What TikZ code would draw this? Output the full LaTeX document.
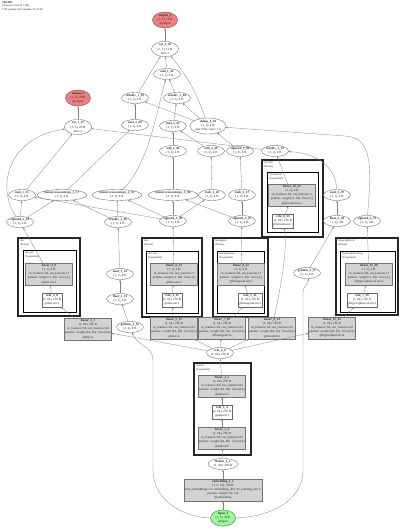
\documentclass[tikz,border=0pt]{standalone}
\usepackage{fontspec}
\setmainfont{Liberation Serif}
\usetikzlibrary{shapes.geometric,arrows.meta}
\definecolor{linfill}{RGB}{211,211,211}
\definecolor{outfill}{RGB}{240,128,128}
\definecolor{infill}{RGB}{152,251,152}
\newcommand{\dgfont}{\fontsize{3.2}{4.1}\selectfont}
\newcommand{\dgsmall}{\fontsize{2.8}{3.3}\selectfont}
\begin{document}
\begin{tikzpicture}[x=1pt,y=-1pt,
  every node/.style={font=\dgfont, align=center, text=black!85},
  ell/.style={ellipse, draw=black!60, line width=0.35pt, fill=white, inner sep=0.2pt, minimum width=27pt, minimum height=11pt},
  outell/.style={ell, fill=outfill, draw=black!70, minimum width=25pt},
  inell/.style={ell, fill=infill, draw=black!70, minimum width=25pt},
  lin/.style={rectangle, draw=black!55, fill=linfill, line width=0.35pt, minimum width=47pt, minimum height=22pt, inner sep=0.5pt},
  relubox/.style={rectangle, draw=black!60, fill=white, line width=0.35pt, minimum width=20pt, minimum height=14pt, inner sep=0.5pt},
  grpout/.style={draw=black!85, line width=1.4pt},
  grpin/.style={draw=black, line width=0.6pt},
  grplabel/.style={anchor=north west, font=\dgsmall, align=left, inner sep=0.6pt},
  edge/.style={draw=black!50, line width=0.3pt, -{Stealth[length=2.2pt,width=1.8pt]}}
]
\useasboundingbox (0,0) rectangle (400,531);

% header
\node[anchor=north west, font=\dgsmall, align=left, inner sep=0pt] (hdr) at (2,1.5)
  {\textbf{SBGMN}\\54 tensors total (3.7 kB)\\7.9K params (all trainable, 31.6 kB)};

% group frames
\draw[grpout] (18,238) rectangle (80,316);
\draw[grpin] (23,250) rectangle (76,312);
\node[grplabel] (g1a) at (19.5,239) {dist\\(Dense)};
\node[grplabel] (g1b) at (24.5,251) {dist.net\\(Sequential)};

\draw[grpout] (142,238) rectangle (202,317);
\draw[grpin] (146,251) rectangle (198,313);
\node[grplabel] (g2a) at (143.5,239) {disc\\(Dense)};
\node[grplabel] (g2b) at (147.5,252) {disc.net\\(Sequential)};

\draw[grpout] (213,238) rectangle (268,317);
\draw[grpin] (217,251) rectangle (264,313);
\node[grplabel] (g3a) at (214.5,239) {histogram\\(Dense)};
\node[grplabel] (g3b) at (218.5,252) {histogram.net\\(Sequential)};

\draw[grpout] (262,160) rectangle (323,237);
\draw[grpin] (267,172) rectangle (318,232);
\node[grplabel] (g4a) at (263.5,161) {decoder\\(Dense)};
\node[grplabel] (g4b) at (268.5,173) {decoder.net\\(Sequential)};

\draw[grpout] (336,238) rectangle (398,315);
\draw[grpin] (340,251) rectangle (395,312);
\node[grplabel] (g5a) at (337.5,239) {hyperspherical\\(Dense)};
\node[grplabel] (g5b) at (341.5,252) {hyperspherical.net\\(Sequential)};

\draw[grpout] (194,363) rectangle (251,455);
\node[grplabel] (g6a) at (195.5,364) {shared\\(Sequential)};

% top part
\node[outell] (out1) at (165,20) {\textbf{output\_1}\\(1, 3), 12 B\\@output};
\node[ell] (cat38) at (165,49) {\textbf{cat\_1\_38}\\(1, 3), 12 B\\dim=1};
\node[ell] (add42) at (167,74) {\textbf{add\_1\_42}\\(1, 1), 4 B};
\node[ell] (td39) at (135,98) {\textbf{truediv\_1\_39}\\(1, 1), 4 B};
\node[ell] (td44) at (177,98) {\textbf{truediv\_1\_44}\\(1, 1), 4 B};
\node[ell] (mul40) at (135,125) {\textbf{mul\_1\_40}\\(1, 1), 4 B};
\node[ell] (mul45) at (173,126) {\textbf{mul\_2\_45}\\(1, 1), 4 B};
\node[ell] (clamp36) at (208,126) {\textbf{clamp\_1\_36}\\(1, 1), 4 B\\min=0.01, max=1.0};
\node[outell] (out2) at (78,98) {\textbf{output\_2}\\(1, 5), 20 B\\@output};
\node[ell] (cat35) at (78,127) {\textbf{cat\_1\_35}\\(1, 5), 20 B\\dim=1};

\node[ell] (add46) at (173,151) {\textbf{add\_2\_46}\\(1, 1), 4 B};
\node[ell] (add49) at (211,151) {\textbf{add\_3\_49}\\(1, 1), 4 B};
\node[ell] (sig50) at (240,151) {\textbf{sigmoid\_5\_50}\\(1, 1), 4 B};
\node[ell] (td52) at (275,151) {\textbf{truediv\_3\_52}\\(1, 1), 4 B};

\node[ell] (mul15) at (22,195) {\textbf{mul\_1\_15}\\(1, 1), 4 B};
\node[ell] (bce17) at (62,195) {\textbf{binarycrossentropy\_1\_17}\\(1, 1), 4 B};
\node[ell] (bce33) at (117,195) {\textbf{binarycrossentropy\_2\_33}\\(1, 1), 4 B};
\node[ell] (bce38) at (173,195) {\textbf{binarycrossentropy\_3\_38}\\(1, 1), 4 B};
\node[ell] (rsub43) at (212,195) {\textbf{rsub\_1\_43}\\(1, 1), 4 B};
\node[ell] (rsub47) at (242,195) {\textbf{rsub\_2\_47}\\(1, 1), 4 B};
\node[ell] (mul29) at (337,195) {\textbf{mul\_3\_29}\\(1, 1), 4 B};

\node[ell] (sig1) at (20,222) {\textbf{sigmoid\_1\_10}\\(1, 1), 4 B};
\node[ell] (td16) at (118,222) {\textbf{truediv\_1\_16}\\(1, 1), 4 B};
\node[ell] (sig2) at (173,221) {\textbf{sigmoid\_2\_20}\\(1, 1), 4 B};
\node[ell] (sig3) at (242,221) {\textbf{sigmoid\_3\_25}\\(1, 1), 4 B};
\node[ell] (flt28) at (337,221) {\textbf{float\_2\_28}\\(1, 1), 4 B};
\node[ell] (sig4) at (367,221) {\textbf{sigmoid\_4\_31}\\(1, 1), 4 B};

\node[ell] (mod14) at (120,274) {\textbf{mod\_1\_14}\\(1, 1), 8 B};
\node[ell] (flt13) at (120,299) {\textbf{float\_1\_13}\\(1, 1), 4 B};
\node[ell] (gi12) at (130,327) {\textbf{getitem\_1\_12}\\(1, 1), 8 B};
\node[ell] (gi27) at (307,273) {\textbf{getitem\_2\_27}\\(1, 1), 8 B};

% group contents
\node[lin] (lg1) at (49,274) {\textbf{linear\_4\_9}\\(1, 1), 4 B\\in\_features=64, out\_features=1\\params: weight (1, 64) · bias (1,)\\@dist.net.2};
\node[relubox] (rg1) at (52,300) {\textbf{relu\_3\_8}\\(1, 64), 256 B\\@dist.net.1};
\node[lin] (lg2) at (174,274) {\textbf{linear\_6\_13}\\(1, 1), 4 B\\in\_features=64, out\_features=1\\params: weight (1, 64) · bias (1,)\\@disc.net.2};
\node[relubox] (rg2) at (172,300) {\textbf{relu\_4\_12}\\(1, 64), 256 B\\@disc.net.1};
\node[lin] (lg3) at (241,274) {\textbf{linear\_8\_22}\\(1, 1), 4 B\\in\_features=64, out\_features=1\\params: weight (1, 64) · bias (1,)\\@histogram.net.2};
\node[relubox] (rg3) at (250,300) {\textbf{relu\_5\_21}\\(1, 64), 256 B\\@histogram.net.1};
\node[lin] (lg4) at (292,195) {\textbf{linear\_10\_25}\\(1, 1), 4 B\\in\_features=64, out\_features=1\\params: weight (1, 64) · bias (1,)\\@decoder.net.2};
\node[relubox] (rg4) at (283,221) {\textbf{relu\_6\_24}\\(1, 64), 256 B\\@decoder.net.1};
\node[lin] (lg5) at (369,274) {\textbf{linear\_12\_30}\\(1, 1), 4 B\\in\_features=64, out\_features=1\\params: weight (1, 64) · bias (1,)\\@hyperspherical.net.2};
\node[relubox] (rg5) at (362,300) {\textbf{relu\_7\_29}\\(1, 64), 256 B\\@hyperspherical.net.1};

% head inputs
\node[lin] (l7) at (88,329) {\textbf{linear\_3\_7}\\(1, 64), 256 B\\in\_features=64, out\_features=64\\params: weight (64, 64) · bias (64,)\\@dist.in};
\node[lin] (l11) at (174,328) {\textbf{linear\_5\_11}\\(1, 64), 256 B\\in\_features=64, out\_features=64\\params: weight (64, 64) · bias (64,)\\@disc.in};
\node[lin] (l19) at (222,328) {\textbf{linear\_7\_19}\\(1, 64), 256 B\\in\_features=64, out\_features=64\\params: weight (64, 64) · bias (64,)\\@histogram.in};
\node[lin] (l23) at (272,328) {\textbf{linear\_9\_23}\\(1, 64), 256 B\\in\_features=64, out\_features=64\\params: weight (64, 64) · bias (64,)\\@decoder.in};
\node[lin] (l24) at (332,328) {\textbf{linear\_11\_24}\\(1, 64), 256 B\\in\_features=64, out\_features=64\\params: weight (64, 64) · bias (64,)\\@hyperspherical.in};

\node[ell] (relu6) at (220,353) {\textbf{relu\_2\_6}\\(1, 64), 256 B};

% shared trunk
\node[lin] (l5) at (222,386) {\textbf{linear\_2\_5}\\(1, 64), 256 B\\in\_features=64, out\_features=64\\params: weight (64, 64) · bias (64,)\\@shared.2};
\node[relubox] (r4) at (222,412) {\textbf{relu\_1\_4}\\(1, 64), 256 B\\@shared.1};
\node[lin] (l3) at (222,438) {\textbf{linear\_1\_3}\\(1, 64), 256 B\\in\_features=80, out\_features=64\\params: weight (64, 80) · bias (64,)\\@shared.0};
\node[ell, minimum width=30pt] (flat2) at (223,464) {\textbf{flatten\_1\_2}\\(1, 80), 320 B};
\node[lin, minimum width=78pt] (emb1) at (223,490) {\textbf{embedding\_1\_1}\\(1, 5, 16), 320 B\\num\_embeddings=32, embedding\_dim=16, padding\_idx=1\\params: weight (32, 16)\\@embedding};
\node[inell] (in1) at (223,518) {\textbf{input\_1}\\(1, 5), 40 B\\@input};

% waypoints
\coordinate (wl1) at (153,470);
\coordinate (wl2) at (153,360);
\coordinate (wr1) at (303,470);
\coordinate (wr2) at (303,292);
\coordinate (wk) at (345,136);

% edges: trunk
\draw[edge] (in1) -- (emb1);
\draw[edge] (emb1) -- (flat2);
\draw[edge] (flat2) -- (l3);
\draw[edge] (l3) -- (r4);
\draw[edge] (r4) -- (l5);
\draw[edge] (l5) -- (relu6);
\draw[edge] (relu6) -- (l7);
\draw[edge] (relu6) -- (l11);
\draw[edge] (relu6) -- (l19);
\draw[edge] (relu6) -- (l23);
\draw[edge] (relu6) -- (l24);
\draw[edge] (in1.west) to[out=178,in=-90] (wl1) -- (wl2) to[out=90,in=-70] (gi12);
\draw[edge] (in1.east) to[out=2,in=-90] (wr1) -- (wr2) to[out=90,in=-80] (gi27);

% heads
\draw[edge] (l7) -- (rg1);
\draw[edge] (rg1) -- (lg1);
\draw[edge] (lg1) -- (sig1);
\draw[edge] (l11) -- (rg2);
\draw[edge] (rg2) -- (lg2);
\draw[edge] (lg2) -- (sig2);
\draw[edge] (l19) -- (rg3);
\draw[edge] (rg3) -- (lg3);
\draw[edge] (lg3) -- (sig3);
\draw[edge] (l23) .. controls (280,290) and (288,250) .. (rg4);
\draw[edge] (rg4) -- (lg4);
\draw[edge] (lg4) -- (td52);
\draw[edge] (l24) -- (rg5);
\draw[edge] (rg5) -- (lg5);
\draw[edge] (lg5) -- (sig4);

% targets
\draw[edge] (gi12) -- (flt13);
\draw[edge] (flt13) -- (mod14);
\draw[edge] (mod14) -- (td16);
\draw[edge] (gi27) -- (flt28);
\draw[edge] (flt28) -- (mul29);
\draw[edge] (mul29) .. controls (336,168) and (318,153) .. (td52);

% losses
\draw[edge] (sig1) -- (mul15);
\draw[edge] (sig2) -- (mul15);
\draw[edge] (sig1) -- (bce17);
\draw[edge] (td16) -- (bce17);
\draw[edge] (td16) -- (bce33);
\draw[edge] (sig2) -- (bce33);
\draw[edge] (sig2) -- (bce38);
\draw[edge] (sig3) -- (bce38);
\draw[edge] (sig2) -- (rsub43);
\draw[edge] (sig3) -- (rsub47);
\draw[edge] (bce38) -- (add46);
\draw[edge] (rsub43) -- (add49);
\draw[edge] (rsub47) -- (sig50);

% outputs
\draw[edge] (sig1) .. controls (-3,190) and (5,138) .. (cat35);
\draw[edge] (mul15) -- (cat35);
\draw[edge] (td52) -- (cat35);
\draw[edge] (cat35) -- (out2);
\draw[edge] (bce17) -- (mul40);
\draw[edge] (add46) -- (mul45);
\draw[edge] (add49) -- (mul45);
\draw[edge] (sig50) -- (clamp36);
\draw[edge] (sig4) .. controls (372,165) and (372,137) .. (wk) -- (clamp36);
\draw[edge] (bce33) .. controls (148,165) and (156,115) .. (add42);
\draw[edge] (mul40) -- (td39);
\draw[edge] (mul45) -- (td44);
\draw[edge] (clamp36) -- (td39);
\draw[edge] (clamp36) -- (td44);
\draw[edge] (td44) -- (add42);
\draw[edge] (td39) -- (cat38);
\draw[edge] (add42) -- (cat38);
\draw[edge] (clamp36) to[bend right=10] (cat38);
\draw[edge] (cat38) -- (out1);
\end{tikzpicture}
\end{document}
